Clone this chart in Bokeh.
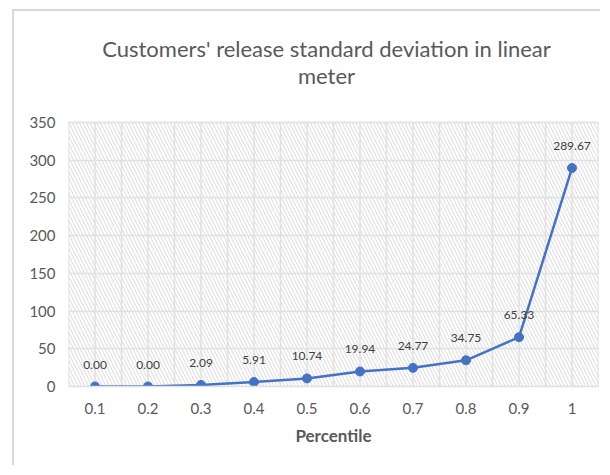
from bokeh.plotting import figure
from bokeh.models import (ColumnDataSource, LabelSet, Label, BoxAnnotation, FixedTicker)
from bokeh.core.properties import value
from bokeh.embed import file_html
from bokeh.resources import INLINE

# ---- data ----
percentiles = ["0.1", "0.2", "0.3", "0.4", "0.5", "0.6", "0.7", "0.8", "0.9", "1"]
std_dev = [0.00, 0.00, 2.09, 5.91, 10.74, 19.94, 24.77, 34.75, 65.33, 289.67]
y_ticks = [0, 50, 100, 150, 200, 250, 300, 350]
title_line1 = "Customers' release standard deviation in linear"
title_line2 = "meter"
x_label = "Percentile"

n = len(percentiles)
xs = list(range(1, n + 1))
y_top = y_ticks[-1]
src = ColumnDataSource(dict(x=xs, y=std_dev, lbl=["%.2f" % v for v in std_dev]))

FONT = "Lato"
GRID = "#e0e0e0"
TXT = "#595959"

# layout (pixels): plot-area height and space reserved above it for the title
AREA_PX = 264
TITLE_PX = 111
y_end = y_top * (1 + TITLE_PX / AREA_PX)

p = figure(width=588, height=456, output_backend="svg", toolbar_location=None,
           x_range=(0.5, n + 0.5), y_range=(0, y_end),
           min_border_left=54, min_border_right=4, min_border_top=0, min_border_bottom=81)
p.margin = (9, 0, 0, 12)
p.styles = {"border-left": "2px solid #d9d9d9", "border-top": "2px solid #d9d9d9"}
p.outline_line_color = None
p.background_fill_color = "white"

# two-line title, each line centred
xc = (n + 1) / 2
for txt, off in ((title_line1, 74), (title_line2, 47)):
    p.add_layout(Label(x=xc, y=y_top, x_offset=-7, y_offset=off, text=txt,
                       text_align="center", text_baseline="middle",
                       text_font=FONT, text_font_size="22px", text_color=TXT))

# hatch background of plot area, with its border
hatch = BoxAnnotation(top=y_top, fill_color=None, line_color=GRID, line_width=1.5,
                      hatch_pattern="\\", hatch_color="#e2e2e2", hatch_scale=7,
                      hatch_weight=1.2, level="underlay")
p.add_layout(hatch)

# grids
p.xgrid.grid_line_color = None
gx = [0.5 + k * 0.5 for k in range(2 * n + 1)]
p.segment(x0=gx, x1=gx, y0=[0] * len(gx), y1=[y_top] * len(gx),
          line_color=GRID, line_width=1.5, level="underlay")
p.ygrid.ticker = FixedTicker(ticks=y_ticks)
p.ygrid.grid_line_color = GRID
p.ygrid.grid_line_width = 1.5

# axes
p.xaxis.ticker = FixedTicker(ticks=xs)
p.xaxis.major_label_overrides = {x: lab for x, lab in zip(xs, percentiles)}
p.yaxis.ticker = FixedTicker(ticks=y_ticks)
for ax in (p.xaxis, p.yaxis):
    ax.major_tick_line_color = None
    ax.minor_tick_line_color = None
    ax.major_label_text_font = FONT
    ax.major_label_text_font_size = "15px"
    ax.major_label_text_color = TXT
p.yaxis.axis_line_color = None
p.xaxis.axis_line_color = GRID
p.xaxis.axis_line_width = 1.5
p.xaxis.major_label_standoff = 10
p.yaxis.major_label_standoff = 7
p.xaxis.axis_label = x_label
p.xaxis.axis_label_text_font = FONT
p.xaxis.axis_label_text_font_size = "17px"
p.xaxis.axis_label_text_font_style = "bold"
p.xaxis.axis_label_text_color = TXT
p.xaxis.axis_label_standoff = 8

# series
p.line("x", "y", source=src, line_color="#4472C4", line_width=2.5)
p.scatter("x", "y", source=src, size=9, fill_color="#4472C4", line_color="#4472C4")

labels = LabelSet(x="x", y="y", text="lbl", source=src, text_align="center",
                  text_baseline="middle", y_offset=22, text_font=value(FONT),
                  text_font_size="12px", text_color="#404040")
p.add_layout(labels)

open("out.html", "w").write(file_html(p, INLINE))
